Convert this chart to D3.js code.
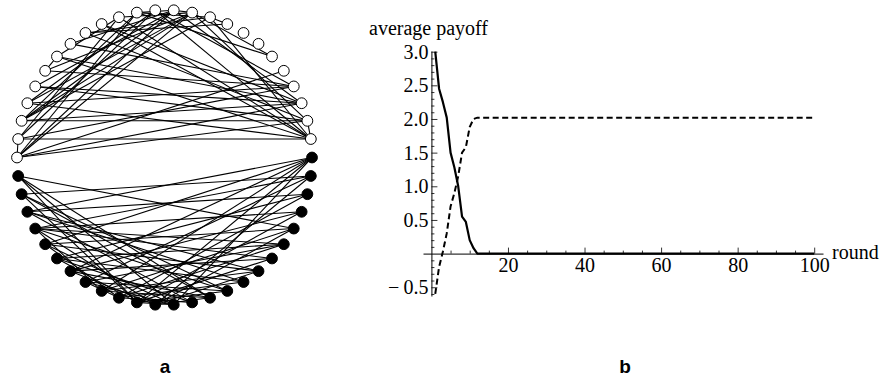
<!DOCTYPE html>
<html>
<head>
<meta charset="utf-8">
<script src="https://cdn.jsdelivr.net/npm/d3@7"></script>
<style>
  body { margin: 0; background: #fff; }
  svg { display: block; }
</style>
</head>
<body>
<div id="chart"></div>
<script>
// ---- panel a: network on a circle ----
const nodeCount = 50;
// node indices (clockwise from the top) that belong to the white group
const whiteNodes = [37, 38, 39, 40, 41, 42, 43, 44, 45, 46, 47, 48, 49,
                    0, 1, 2, 3, 4, 5, 6, 7, 8, 9, 10, 11];
const whiteEdges = [
  [37, 38], [37, 9], [37, 10], [37, 7], [37, 48], [37, 0], [37, 1],
  [38, 11], [38, 8], [38, 47], [38, 49],
  [39, 9], [39, 10], [39, 48], [39, 0], [39, 1], [39, 2],
  [40, 8], [40, 11], [40, 49], [40, 1],
  [41, 9], [41, 10], [41, 0],
  [42, 43], [42, 8], [42, 1],
  [43, 9], [43, 11], [43, 47],
  [44, 8], [44, 0],
  [45, 2], [45, 3], [45, 10],
  [46, 11], [46, 9],
  [47, 1], [47, 11],
  [48, 2], [48, 6], [48, 0],
  [49, 11], [49, 8],
  [0, 9], [0, 1],
  [1, 6], [1, 10],
  [2, 3], [2, 11],
  [10, 11]
];
const blackEdges = [
  [12, 24], [12, 26], [12, 28], [12, 30], [12, 32], [12, 34],
  [13, 25], [13, 29], [13, 33], [13, 35],
  [14, 27], [14, 31], [14, 34],
  [15, 26], [15, 30], [15, 33],
  [16, 36], [16, 28], [16, 32], [16, 25],
  [17, 29], [17, 31], [17, 27],
  [18, 33], [18, 26], [18, 30],
  [19, 28], [19, 32], [19, 25],
  [20, 31], [20, 27], [20, 34],
  [21, 29], [21, 33], [21, 26], [21, 35],
  [22, 35], [22, 30], [22, 28], [22, 36],
  [23, 31], [23, 27], [23, 34],
  [24, 36], [24, 29], [24, 32], [24, 26],
  [25, 33], [25, 30],
  [26, 35], [26, 31], [26, 36],
  [27, 32], [27, 29],
  [28, 33],
  [19, 34], [17, 33], [22, 25]
];

// ---- panel b: average payoff per round ----
const rounds      = [1, 2, 3, 4, 5, 6, 7, 8, 9, 10, 11, 12, 100];
const solidPayoff = [3.0, 2.45, 2.25, 2.02, 1.5, 1.28, 1.0, 0.55, 0.47, 0.2, 0.08, 0.0, 0.0];
const dashPayoff  = [-0.6, -0.2, 0.03, 0.3, 0.7, 0.9, 1.15, 1.5, 1.58, 1.88, 2.0, 2.02, 2.02];
const xTicks = [20, 40, 60, 80, 100];
const yTicks = [-0.5, 0.5, 1.0, 1.5, 2.0, 2.5, 3.0];

const W = 881, H = 377;
const svg = d3.select('#chart').append('svg')
  .attr('width', W).attr('height', H);

// =========================== a ===========================
const netCenter = [164.5, 157.5], netRadius = 147.5;
const angle = d3.scaleLinear().domain([0, nodeCount]).range([0, 2 * Math.PI]);
const whiteSet = new Set(whiteNodes);
const nodes = d3.range(nodeCount).map(i => {
  const p = d3.pointRadial(angle(i + 0.5), netRadius);
  return { id: i, x: netCenter[0] + p[0], y: netCenter[1] + p[1], white: whiteSet.has(i) };
});

const net = svg.append('g');
net.append('g')
  .attr('stroke', '#000').attr('stroke-width', 1.1)
  .selectAll('line')
  .data(whiteEdges.concat(blackEdges))
  .join('line')
  .attr('x1', d => nodes[d[0]].x).attr('y1', d => nodes[d[0]].y)
  .attr('x2', d => nodes[d[1]].x).attr('y2', d => nodes[d[1]].y);

net.append('g')
  .selectAll('circle')
  .data(nodes)
  .join('circle')
  .attr('cx', d => d.x).attr('cy', d => d.y).attr('r', 5.4)
  .attr('fill', d => d.white ? '#fff' : '#000')
  .attr('stroke', '#000').attr('stroke-width', 1);

svg.append('text')
  .attr('x', 165).attr('y', 373).attr('text-anchor', 'middle')
  .style('font-family', '"Liberation Sans", Arial, sans-serif')
  .style('font-weight', 'bold').style('font-size', '19px')
  .text('a');

// =========================== b ===========================
const x = d3.scaleLinear().domain([-2.2, 102.3]).range([423, 823]);
const y = d3.scaleLinear().domain([-0.63, 3.01]).range([296, 51]);
const serif = '"Liberation Serif", "Times New Roman", serif';

const plot = svg.append('g');

// x axis (ticks pointing up)
const xAxisG = plot.append('g').attr('transform', `translate(0,${y(0)})`);
xAxisG.call(d3.axisBottom(x).tickValues(d3.range(5, 101, 5).filter(v => v % 20 !== 0))
  .tickSizeInner(-3).tickSizeOuter(0).tickFormat(''));
xAxisG.append('g').call(d3.axisBottom(x).tickValues(xTicks)
  .tickSizeInner(-6).tickSizeOuter(0).tickPadding(4))
  .call(g => g.select('.domain').remove());

// y axis (ticks pointing right)
const yAxisG = plot.append('g').attr('transform', `translate(${x(0)},0)`);
yAxisG.call(d3.axisLeft(y).tickValues(d3.range(-6, 31).filter(v => v % 5 !== 0).map(v => v / 10))
  .tickSizeInner(-3).tickSizeOuter(0).tickFormat(''));
yAxisG.append('g').call(d3.axisLeft(y).tickValues(yTicks)
  .tickSizeInner(-6).tickSizeOuter(0).tickPadding(3)
  .tickFormat(v => v < 0 ? '\u2212\u20090.5'.replace('0.5', d3.format('.1f')(-v)) : d3.format('.1f')(v)))
  .call(g => g.select('.domain').remove());

plot.selectAll('.tick text')
  .style('font-family', serif).style('font-size', '20px').attr('fill', '#000');
plot.selectAll('.tick line').attr('stroke', '#000').attr('stroke-width', 0.8);
plot.selectAll('.domain').attr('stroke', '#000').attr('stroke-width', 1);

const line = d3.line().x((d, i) => x(rounds[i])).y(d => y(d));

plot.append('path')
  .datum(dashPayoff)
  .attr('fill', 'none').attr('stroke', '#000').attr('stroke-width', 2)
  .attr('stroke-dasharray', '6,3.5')
  .attr('d', line);

plot.append('path')
  .datum(solidPayoff)
  .attr('fill', 'none').attr('stroke', '#000').attr('stroke-width', 2.2)
  .attr('stroke-linejoin', 'round')
  .attr('d', line);

plot.append('text')
  .attr('x', 369).attr('y', 35)
  .style('font-family', serif).style('font-size', '20px')
  .text('average payoff');

plot.append('text')
  .attr('x', 832).attr('y', 259)
  .style('font-family', serif).style('font-size', '20px')
  .text('round');

svg.append('text')
  .attr('x', 625).attr('y', 373).attr('text-anchor', 'middle')
  .style('font-family', '"Liberation Sans", Arial, sans-serif')
  .style('font-weight', 'bold').style('font-size', '19px')
  .text('b');
</script>
</body>
</html>
